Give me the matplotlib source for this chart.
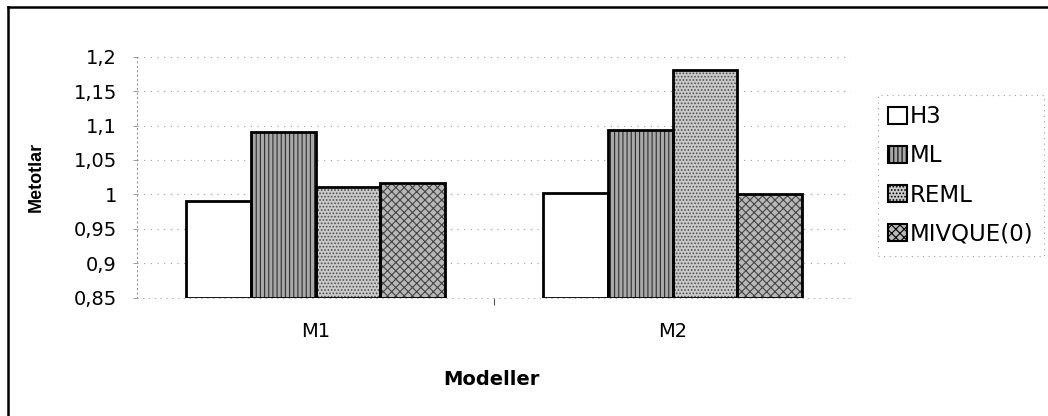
import matplotlib
matplotlib.use("Agg")
import matplotlib.pyplot as plt
from matplotlib.patches import Patch
from matplotlib.lines import Line2D
import numpy as np

plt.rcParams['font.family'] = ['DejaVu Sans']
plt.rcParams['hatch.linewidth'] = 0.8

categories = ["M1", "M2"]
series_names = ["H3", "ML", "REML", "MIVQUE(0)"]
h3 = [0.990, 1.002]
ml = [1.090, 1.094]
reml = [1.011, 1.180]
mivque = [1.017, 1.001]
values = [h3, ml, reml, mivque]

yticks = [0.85, 0.9, 0.95, 1.0, 1.05, 1.1, 1.15, 1.2]
ytick_labels = ["0,85", "0,9", "0,95", "1", "1,05", "1,1", "1,15", "1,2"]

faces = ["white", "#a8a8a8", "#cacaca", "#b8b8b8"]
hatches = [None, "||||", ".....", "xxxx"]
hatch_cols = ["white", "#2e2e2e", "#505050", "#444444"]

fig = plt.figure(figsize=(10.48, 4.16), dpi=100)
ax = fig.add_axes([137/1048, 1-297.7/416, (851-137)/1048, (297.7-56.7)/416])

x = np.arange(len(categories))
bw = 1/5.5
for i, vals in enumerate(values):
    pos = x + (i - 1.5) * bw
    heights = [v - 0.85 for v in vals]
    ax.bar(pos, heights, bw, bottom=0.85, facecolor=faces[i], hatch=hatches[i],
           edgecolor=hatch_cols[i], linewidth=0, zorder=2)
    ax.bar(pos, heights, bw, bottom=0.85, fill=False, edgecolor="black",
           linewidth=2.0, zorder=3)

ax.set_xlim(-0.5, 1.5)
ax.set_ylim(0.85, 1.2)
ax.set_yticks(yticks)
ax.set_yticklabels(ytick_labels, fontsize=14)
ax.set_xticks(x)
ax.set_xticklabels(categories, fontsize=14)
ax.set_xticks([0.5], minor=True)
ax.tick_params(axis='x', which='major', length=0, pad=17.5)
ax.tick_params(axis='x', which='minor', length=5, width=0.8, color='#555555')
ax.tick_params(axis='y', length=3, width=0.6, color='#888888', pad=11.5)

ax.grid(axis='y', color='#a0a0a0', linestyle=(0, (1, 5)), linewidth=0.8, zorder=0)
ax.set_axisbelow(True)
for s in ['top', 'right']:
    ax.spines[s].set_visible(False)
ax.spines['left'].set_color('#999999')
ax.spines['left'].set_linestyle((0, (1, 3)))
ax.spines['left'].set_linewidth(0.8)
ax.spines['bottom'].set_color('#aaaaaa')
ax.spines['bottom'].set_linestyle((0, (1, 6)))
ax.spines['bottom'].set_linewidth(0.6)

ax.set_ylabel("Metotlar", fontsize=13, fontweight='bold',
              family=['Liberation Sans', 'DejaVu Sans'])
ax.yaxis.set_label_coords(-0.129, 0.5)
ax.set_xlabel("Modeller", fontsize=14, fontweight='bold')
ax.xaxis.set_label_coords(0.497, -0.30)

handles = [Patch(facecolor=faces[i], hatch=hatches[i], edgecolor="black", linewidth=1.5)
           for i in range(len(series_names))]
leg = fig.legend(handles, series_names, loc='center',
                 bbox_to_anchor=(961/1048, 1-175.5/416), fontsize=16.5,
                 handlelength=0.8, handleheight=0.8, handletextpad=0.15,
                 labelspacing=0.7, borderpad=0.45, frameon=True, fancybox=False)
fr = leg.get_frame()
fr.set_edgecolor('#8a8a8a')
fr.set_linestyle((0, (1, 4)))
fr.set_linewidth(0.8)

# outer chart frame (left and top edges visible)
fig.add_artist(Line2D([8/1048, 8/1048], [0, 1-7/416], transform=fig.transFigure,
                      color='black', linewidth=1.8))
fig.add_artist(Line2D([8/1048, 1], [1-7/416, 1-7/416], transform=fig.transFigure,
                      color='black', linewidth=1.8))

fig.savefig("out.png", dpi=100)
